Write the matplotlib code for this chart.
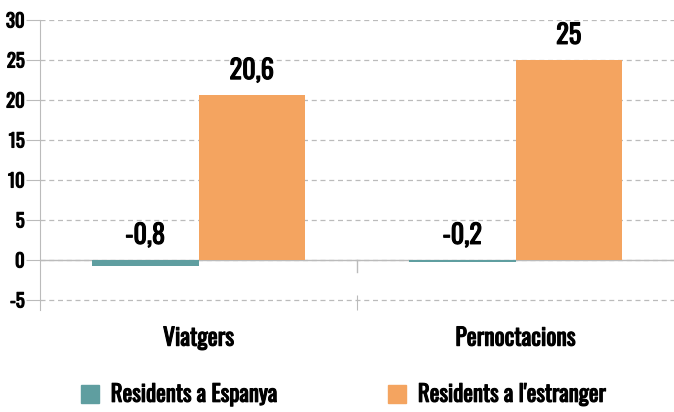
import matplotlib
matplotlib.use("Agg")
import matplotlib.pyplot as plt
import matplotlib.patheffects as pe
import numpy as np
from matplotlib.patches import Patch

plt.rcParams['font.family'] = ['Oswald', 'DejaVu Sans']
# Oswald only ships its regular weight here, a thin stroke makes it look bold
bold = [pe.withStroke(linewidth=0.8, foreground='black')]

categories = ['Viatgers', 'Pernoctacions']
series_names = ['Residents a Espanya', "Residents a l'estranger"]
espanya = [-0.8, -0.2]
estranger = [20.6, 25]
labels_espanya = ['-0,8', '-0,2']
labels_estranger = ['20,6', '25']
colors = ['#5F9EA0', '#F4A460']

fig = plt.figure(figsize=(6.74, 4.12), dpi=100)
ax = fig.add_axes([40 / 674, 102 / 412, 634 / 674, 290 / 412])

x = np.arange(len(categories))
w = 0.336
b1 = ax.bar(x - w / 2, espanya, w, color=colors[0], zorder=3)
b2 = ax.bar(x + w / 2, estranger, w, color=colors[1], zorder=3)

for bars, labs in [(b1, labels_espanya), (b2, labels_estranger)]:
    for rect, lab in zip(bars, labs):
        top = max(rect.get_height() + rect.get_y(), 0)
        ax.annotate(lab, (rect.get_x() + rect.get_width() / 2, top),
                    xytext=(0, 8), textcoords='offset points',
                    ha='center', va='bottom', fontsize=19, path_effects=bold)

ax.set_xlim(-0.5, 1.5)
ax.set_ylim(-6.25, 30)
ax.set_yticks([-5, 0, 5, 10, 15, 20, 25, 30])
ax.set_yticklabels(['-5', '0', '5', '10', '15', '20', '25', '30'], fontsize=13.5,
                   path_effects=bold)
ax.yaxis.grid(True, linestyle=(0, (4, 3)), color='#bbbbbb', linewidth=0.9, zorder=0)
ax.axhline(0, color='#bbbbbb', linewidth=1.0, zorder=1)
ax.tick_params(axis='y', length=10, color='#bbbbbb', pad=1)

# category labels centred, separator tick between groups
ax.set_xticks([0.5])
ax.set_xticklabels([''])
ax.tick_params(axis='x', direction='in', length=11, color='#bbbbbb')
ax.set_xticks(x, minor=True)
ax.set_xticklabels(categories, minor=True, fontsize=17, path_effects=bold)
ax.tick_params(axis='x', which='minor', length=0, pad=12)
ax.plot([0.5, 0.5], [0, -1.5], color='#bbbbbb', linewidth=1, zorder=1)

for s in ['top', 'right', 'bottom']:
    ax.spines[s].set_visible(False)
ax.spines['left'].set_color('#bbbbbb')

handles = [Patch(color=c) for c in colors]
leg = fig.legend(handles, series_names, loc='lower center', ncol=2, frameon=False,
                 bbox_to_anchor=(0.51, -0.035), fontsize=16.5, handlelength=0.8,
                 handleheight=0.8, handletextpad=0.5, columnspacing=4.8)
for t in leg.get_texts():
    t.set_path_effects(bold)

fig.savefig('out.png', dpi=100)
